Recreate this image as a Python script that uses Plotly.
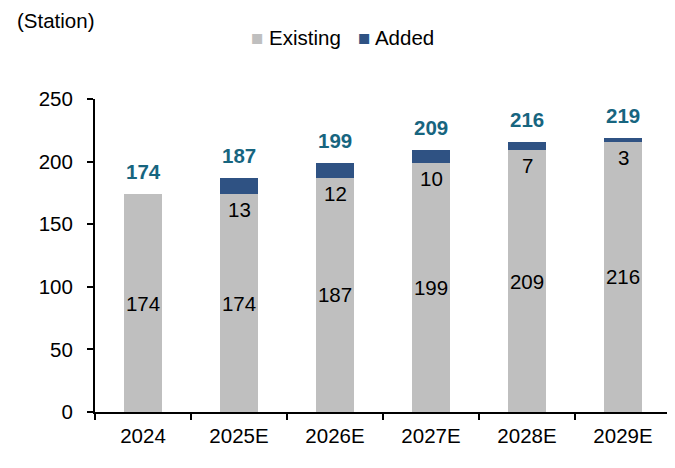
import plotly.graph_objects as go

# Station counts per year
years = ["2024", "2025E", "2026E", "2027E", "2028E", "2029E"]
existing = [174, 174, 187, 199, 209, 216]
added = [0, 13, 12, 10, 7, 3]
totals = [174, 187, 199, 209, 216, 219]

GRAY = "#BFBFBF"
BLUE = "#2F5283"
TEAL = "#17657F"
FONT = "Liberation Sans, Arial, sans-serif"
FS = 20.5

fig = go.Figure()

fig.add_trace(go.Bar(
    x=years,
    y=existing,
    name="Existing",
    marker=dict(color=GRAY, line=dict(width=0)),
    text=[str(v) for v in existing],
    textposition="inside",
    insidetextanchor="middle",
    textangle=0,
    textfont=dict(size=FS, color="black", family=FONT),
    constraintext="none",
    width=0.4,
))

fig.add_trace(go.Bar(
    x=years,
    y=added,
    name="Added",
    marker=dict(color=BLUE, line=dict(width=0)),
    width=0.4,
))

# added values sit just under the blue segment, totals above the stack
# (annotations use the category index: "2024" would be read as position 2024)
for i, (ex, ad, tot) in enumerate(zip(existing, added, totals)):
    if ad > 0:
        fig.add_annotation(
            x=i, y=ex, text=str(ad), showarrow=False,
            yanchor="top", yshift=-2,
            font=dict(size=FS, color="black", family=FONT),
        )
    fig.add_annotation(
        x=i, y=tot, text=f"<b>{tot}</b>", showarrow=False,
        yanchor="bottom", yshift=9,
        font=dict(size=FS, color=TEAL, family=FONT),
    )

fig.add_annotation(
    x=0, y=1, xref="paper", yref="paper",
    xshift=-80, yshift=79,
    text="(Station)", showarrow=False,
    xanchor="left", yanchor="middle",
    font=dict(size=FS, color="black", family=FONT),
)

# legend drawn as text so the swatches sit tight against the labels
legend_html = (
    f"<span style='color:{GRAY}'>■</span> Existing&nbsp;&nbsp;&nbsp;"
    f"<span style='color:{BLUE}'>■</span> Added"
)
fig.add_annotation(
    x=0, y=1, xref="paper", yref="paper",
    xshift=154, yshift=62,
    text=legend_html, showarrow=False,
    xanchor="left", yanchor="middle",
    font=dict(size=FS, color="black", family=FONT),
)

fig.update_layout(
    width=675,
    height=468,
    barmode="stack",
    plot_bgcolor="white",
    paper_bgcolor="white",
    font=dict(family=FONT, size=FS, color="black"),
    margin=dict(l=87, r=12, t=91, b=64, autoexpand=False),
    showlegend=False,
    xaxis=dict(
        type="category",
        showline=True, linecolor="black", linewidth=2,
        ticks="outside", tickson="boundaries", ticklen=6,
        tickcolor="black", tickwidth=2,
        ticklabelstandoff=4,
        showgrid=False,
    ),
    yaxis=dict(
        range=[0, 250],
        dtick=50,
        showline=True, linecolor="black", linewidth=2,
        ticks="outside", ticklen=6, tickcolor="black", tickwidth=2,
        ticklabelstandoff=10,
        showgrid=False, zeroline=False,
    ),
)

fig.write_html("out.html")
